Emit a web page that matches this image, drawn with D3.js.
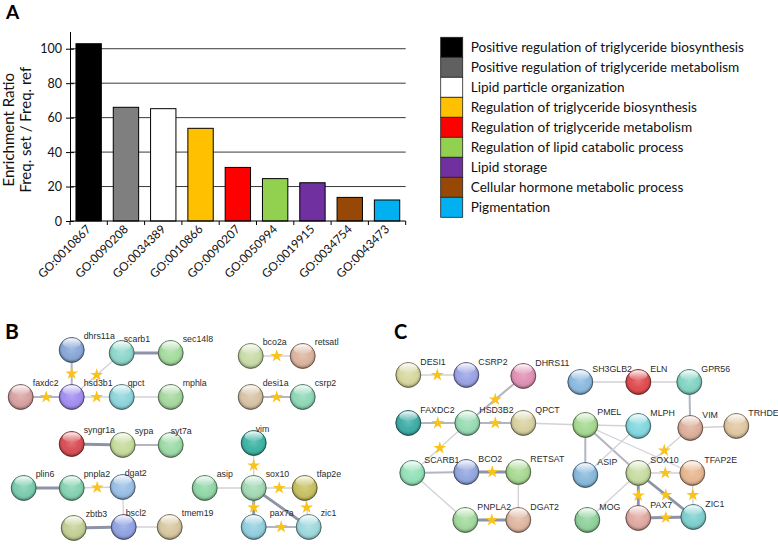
<!DOCTYPE html>
<html>
<head>
	<title>Enrichment and networks</title>
	<meta charset="utf-8">
	<script src="https://cdnjs.cloudflare.com/ajax/libs/d3/7.8.5/d3.min.js"></script>
	<style type="text/css">
		body { margin: 0; background: #fff; }
		text { font-family: Lato, "Open Sans", sans-serif; }
		.net text { font-family: "Liberation Sans", Arial, sans-serif; fill: #2a2a2a; }
	</style>
</head>
<body>
	<script type="text/javascript">

		// ---- panel A data ----
		const categories = ['GO:0010867', 'GO:0090208', 'GO:0034389', 'GO:0010866', 'GO:0090207',
			'GO:0050994', 'GO:0019915', 'GO:0034754', 'GO:0043473'];
		const ratios = [102.9, 66, 65.2, 53.8, 31.1, 24.6, 22.2, 13.7, 12.2];
		const terms = ['Positive regulation of triglyceride biosynthesis',
			'Positive regulation of triglyceride metabolism',
			'Lipid particle organization',
			'Regulation of triglyceride biosynthesis',
			'Regulation of triglyceride metabolism',
			'Regulation of lipid catabolic process',
			'Lipid storage',
			'Cellular hormone metabolic process',
			'Pigmentation'];
		const barColors = ['#000000', '#7f7f7f', '#ffffff', '#ffc000', '#ff0000', '#92d050', '#7030a0', '#974706', '#00b0f0'];
		const yTicks = [0, 20, 40, 60, 80, 100];

		// ---- panel B network (layout units) ----
		const nodesB = [
			['dhrs11a', 51, 0], ['scarb1', 101, 3], ['sec14l8', 150, 3],
			['faxdc2', 0, 47], ['hsd3b1', 51, 47], ['qpct', 101, 47], ['mphla', 150, 47],
			['bco2a', 230, 6], ['retsatl', 282, 6], ['desi1a', 230, 47], ['csrp2', 282, 47],
			['syngr1a', 51, 94], ['sypa', 102, 95], ['syt7a', 150, 95],
			['plin6', 3, 138], ['pnpla2', 51, 138], ['dgat2', 102, 137],
			['zbtb3', 53, 178], ['bscl2', 103, 177], ['tmem19', 149, 177],
			['vim', 233, 93], ['asip', 184, 138], ['sox10', 233, 138], ['tfap2e', 284, 138],
			['pax7a', 233, 177], ['zic1', 288, 177]
		];
		// [from, to, confidence 1-3, starred]
		const edgesB = [
			['dhrs11a', 'hsd3b1', 2, 1], ['faxdc2', 'hsd3b1', 2, 1], ['hsd3b1', 'scarb1', 1, 1],
			['hsd3b1', 'qpct', 1, 1], ['scarb1', 'sec14l8', 3, 0], ['qpct', 'mphla', 1, 0],
			['bco2a', 'retsatl', 1, 1], ['desi1a', 'csrp2', 2, 1],
			['syngr1a', 'sypa', 3, 0], ['sypa', 'syt7a', 2, 0],
			['plin6', 'pnpla2', 3, 0], ['pnpla2', 'dgat2', 1, 1], ['dgat2', 'bscl2', 1, 0],
			['zbtb3', 'bscl2', 3, 0], ['bscl2', 'tmem19', 1, 0],
			['vim', 'sox10', 1, 1], ['asip', 'sox10', 1, 0], ['sox10', 'tfap2e', 1, 1],
			['sox10', 'pax7a', 3, 1], ['sox10', 'zic1', 3, 0], ['tfap2e', 'zic1', 1, 1], ['pax7a', 'zic1', 2, 1]
		];
		const colorsB = {
			dhrs11a: '#8aa8d8', scarb1: '#8fd8cc', sec14l8: '#a6dca0', faxdc2: '#d8a2a2', hsd3b1: '#a38ff0',
			qpct: '#8ed6dc', mphla: '#a8d8a0', bco2a: '#c9dca8', retsatl: '#dcb4a0', desi1a: '#d8c3a5',
			csrp2: '#8fd8b8', syngr1a: '#d84f55', sypa: '#c6dc9c', syt7a: '#9edba8', plin6: '#7ccdb0',
			pnpla2: '#86d2b2', dgat2: '#9ac0e6', zbtb3: '#c4d096', bscl2: '#92a4e4', tmem19: '#d8c8a0',
			vim: '#3fb5a6', asip: '#92d8a8', sox10: '#a4dab6', tfap2e: '#c8c264', pax7a: '#94d0e0', zic1: '#a0dade'
		};
		const labelShiftB = { scarb1: 2, qpct: 6, syt7a: 0, vim: 2, dgat2: 2, bscl2: 2, pax7a: 16 };

		// ---- panel C network (layout units) ----
		const nodesC = [
			['DESI1', 0, 0], ['CSRP2', 58, 0], ['DHRS11', 115, 1], ['SH3GLB2', 172, 7], ['ELN', 230, 7], ['GPR56', 281, 7],
			['FAXDC2', 0, 48], ['HSD3B2', 59, 48], ['QPCT', 115, 48], ['PMEL', 177, 50], ['MLPH', 230, 51],
			['VIM', 282, 53], ['TRHDE', 328, 51],
			['SCARB1', 4, 98], ['BCO2', 58, 97], ['RETSAT', 110, 97], ['ASIP', 177, 100], ['SOX10', 230, 98], ['TFAP2E', 284, 98],
			['PNPLA2', 57, 145], ['DGAT2', 110, 145], ['MOG', 179, 145], ['PAX7', 230, 143], ['ZIC1', 285, 142]
		];
		const edgesC = [
			['DESI1', 'CSRP2', 1, 1], ['DHRS11', 'HSD3B2', 2, 1], ['FAXDC2', 'HSD3B2', 2, 1], ['HSD3B2', 'QPCT', 2, 1],
			['QPCT', 'PMEL', 1, 0], ['HSD3B2', 'SCARB1', 1, 1], ['SCARB1', 'BCO2', 2, 0], ['SCARB1', 'PNPLA2', 1, 0],
			['BCO2', 'RETSAT', 3, 1], ['RETSAT', 'DGAT2', 1, 0], ['PNPLA2', 'DGAT2', 3, 1],
			['SH3GLB2', 'ELN', 1, 0], ['ELN', 'GPR56', 1, 0], ['GPR56', 'VIM', 2, 0], ['VIM', 'TRHDE', 1, 0],
			['VIM', 'SOX10', 1, 1], ['PMEL', 'MLPH', 1, 0], ['PMEL', 'ASIP', 2, 0], ['PMEL', 'SOX10', 2, 0],
			['PMEL', 'TFAP2E', 1, 0], ['MLPH', 'ASIP', 1, 0], ['MOG', 'SOX10', 1, 0],
			['SOX10', 'TFAP2E', 1, 1], ['SOX10', 'PAX7', 3, 1], ['SOX10', 'ZIC1', 3, 1],
			['TFAP2E', 'ZIC1', 1, 1], ['PAX7', 'ZIC1', 3, 1]
		];
		const colorsC = {
			DESI1: '#d8d8a0', CSRP2: '#9ca4e6', DHRS11: '#e092b4', SH3GLB2: '#8cbae0', ELN: '#e04c50', GPR56: '#84d4c4',
			FAXDC2: '#3fada6', HSD3B2: '#98dcb4', QPCT: '#d8d2a2', PMEL: '#a6da92', MLPH: '#84d8e0', VIM: '#deb09c',
			TRHDE: '#e0c8a2', SCARB1: '#94e2b8', BCO2: '#94a8e0', RETSAT: '#aad994', ASIP: '#88badc', SOX10: '#c8dca2',
			TFAP2E: '#e8b892', PNPLA2: '#a4da9e', DGAT2: '#e0b8a2', MOG: '#90d29c', PAX7: '#e0aaa2', ZIC1: '#80d0d0'
		};

		let svg = d3.select('body').append('svg')
			.attr('width', 778)
			.attr('height', 549);

		// ---------------- panel A ----------------
		svg.append('text').attr('x', 6).attr('y', 19)
			.attr('font-size', 19).attr('font-weight', 'bold').text('A');

		let xScale = d3.scaleBand().domain(categories).range([70, 405.7]).paddingInner(0.32).paddingOuter(0.16);
		let yScale = d3.scaleLinear().domain([0, 110]).range([221, 31.5]);

		// gridlines
		svg.append('g').selectAll('line').data(yTicks.slice(1)).enter().append('line')
			.attr('x1', 70).attr('x2', 405.7)
			.attr('y1', d => yScale(d)).attr('y2', d => yScale(d))
			.attr('stroke', '#3a3a3a').attr('stroke-width', 1);

		svg.append('g').selectAll('rect').data(ratios).enter().append('rect')
			.attr('x', (d, i) => xScale(categories[i]))
			.attr('y', d => yScale(d))
			.attr('width', xScale.bandwidth())
			.attr('height', d => yScale(0) - yScale(d))
			.attr('fill', (d, i) => barColors[i])
			.attr('stroke', '#000').attr('stroke-width', 1);

		let yAxis = svg.append('g').attr('transform', 'translate(70,0)')
			.call(d3.axisLeft(yScale).tickValues(yTicks).tickSize(4).tickSizeOuter(0));
		yAxis.select('.domain').attr('stroke', '#000');
		yAxis.selectAll('.tick line').attr('x1', 4).attr('stroke', '#000');
		yAxis.selectAll('.tick text').attr('font-size', 12.5).attr('fill', '#111').attr('x', -8)
			.style('font-family', 'Lato');

		// x axis with boundary ticks
		let step = xScale.step();
		let x0 = xScale.range()[0];
		svg.append('line').attr('x1', x0).attr('x2', xScale.range()[1])
			.attr('y1', yScale(0)).attr('y2', yScale(0)).attr('stroke', '#000');
		svg.append('g').selectAll('line').data(d3.range(categories.length + 1)).enter().append('line')
			.attr('x1', i => x0 + i * step).attr('x2', i => x0 + i * step)
			.attr('y1', yScale(0)).attr('y2', yScale(0) + 4).attr('stroke', '#000');
		svg.append('g').selectAll('text').data(categories).enter().append('text')
			.attr('transform', d => `translate(${xScale(d) + xScale.bandwidth() / 2 + 3},${yScale(0) + 9}) rotate(-45)`)
			.attr('text-anchor', 'end').attr('font-size', 11.8).attr('fill', '#111').text(d => d);

		// y label
		let yl = svg.append('text').attr('transform', `translate(14,${yScale(53)}) rotate(-90)`)
			.attr('text-anchor', 'middle').attr('font-size', 15).attr('fill', '#111');
		yl.append('tspan').attr('x', 0).attr('dy', 0).text('Enrichment Ratio');
		yl.append('tspan').attr('x', 0).attr('dy', 17).text('Freq. set / Freq. ref');

		// legend
		let legY = d3.scaleBand().domain(terms).range([37.3, 217.3]);
		let leg = svg.append('g');
		leg.selectAll('rect').data(terms).enter().append('rect')
			.attr('x', 440.7).attr('y', d => legY(d))
			.attr('width', 22).attr('height', legY.bandwidth())
			.attr('fill', (d, i) => i === 1 ? '#606060' : barColors[i])
			.attr('stroke', '#222').attr('stroke-width', 0.8);
		leg.selectAll('text').data(terms).enter().append('text')
			.attr('x', 470.7).attr('y', d => legY(d) + legY.bandwidth() / 2 + 5)
			.attr('font-size', 13.6).attr('fill', '#111').text(d => d);

		// ---------------- networks ----------------
		let defs = svg.append('defs');
		let shade = defs.append('radialGradient').attr('id', 'shade')
			.attr('cx', '50%').attr('cy', '45%').attr('r', '55%');
		shade.append('stop').attr('offset', '0%').attr('stop-color', '#fff').attr('stop-opacity', 0.2);
		shade.append('stop').attr('offset', '55%').attr('stop-color', '#fff').attr('stop-opacity', 0);
		shade.append('stop').attr('offset', '80%').attr('stop-color', '#000').attr('stop-opacity', 0.08);
		shade.append('stop').attr('offset', '100%').attr('stop-color', '#000').attr('stop-opacity', 0.4);
		let gloss = defs.append('linearGradient').attr('id', 'gloss')
			.attr('x1', 0).attr('y1', 0).attr('x2', 0).attr('y2', 1);
		gloss.append('stop').attr('offset', '0%').attr('stop-color', '#fff').attr('stop-opacity', 0.95);
		gloss.append('stop').attr('offset', '100%').attr('stop-color', '#fff').attr('stop-opacity', 0.05);

		let edgeWidth = d3.scaleOrdinal().domain([1, 2, 3]).range([1.3, 2, 2.8]);
		let edgeColor = d3.scaleOrdinal().domain([1, 2, 3]).range(['#d2d2d6', '#b3b5c2', '#8e93a8']);
		let star = d3.symbol().type(d3.symbolStar).size(52);

		function drawNetwork(nodes, edges, colors, shifts, xs, ys, labelDy) {
			let pos = {};
			nodes.forEach(n => { pos[n[0]] = [xs(n[1]), ys(n[2])]; });
			let g = svg.append('g').attr('class', 'net');

			g.selectAll('line').data(edges).enter().append('line')
				.attr('x1', d => pos[d[0]][0]).attr('y1', d => pos[d[0]][1])
				.attr('x2', d => pos[d[1]][0]).attr('y2', d => pos[d[1]][1])
				.attr('stroke', d => edgeColor(d[2])).attr('stroke-width', d => edgeWidth(d[2]));

			g.selectAll('path.star').data(edges.filter(d => d[3])).enter().append('path')
				.attr('class', 'star').attr('d', star)
				.attr('transform', d => `translate(${(pos[d[0]][0] + pos[d[1]][0]) / 2},${(pos[d[0]][1] + pos[d[1]][1]) / 2})`)
				.attr('fill', '#f9c31c');

			let nd = g.selectAll('g.node').data(nodes).enter().append('g')
				.attr('class', 'node')
				.attr('transform', d => `translate(${pos[d[0]][0]},${pos[d[0]][1]})`);
			nd.append('circle').attr('r', 12.5)
				.attr('fill', d => colors[d[0]])
				.attr('stroke', d => d3.color(colors[d[0]]).darker(1.8)).attr('stroke-width', 0.9);
			nd.append('circle').attr('r', 12.5).attr('fill', 'url(#shade)');
			nd.append('ellipse').attr('cx', 0).attr('cy', -6.8).attr('rx', 9).attr('ry', 5)
				.attr('fill', 'url(#gloss)');
			nd.append('text')
				.attr('x', d => d[0] in shifts ? shifts[d[0]] : 12)
				.attr('y', labelDy)
				.attr('font-size', 8.8).text(d => d[0]);
		}

		svg.append('text').attr('x', 5).attr('y', 338.5)
			.attr('font-size', 21).attr('font-weight', 'bold').text('B');
		drawNetwork(nodesB, edgesB, colorsB, labelShiftB,
			d3.scaleLinear().domain([0, 288]).range([20.7, 308.7]),
			d3.scaleLinear().domain([0, 178]).range([350, 528]), -11.5);

		svg.append('text').attr('x', 394).attr('y', 338.5)
			.attr('font-size', 20).attr('font-weight', 'bold').text('C');
		drawNetwork(nodesC, edgesC, colorsC, {},
			d3.scaleLinear().domain([0, 328]).range([408.3, 736.3]),
			d3.scaleLinear().domain([0, 145]).range([375, 520]), -10);
	</script>
</body>
</html>
